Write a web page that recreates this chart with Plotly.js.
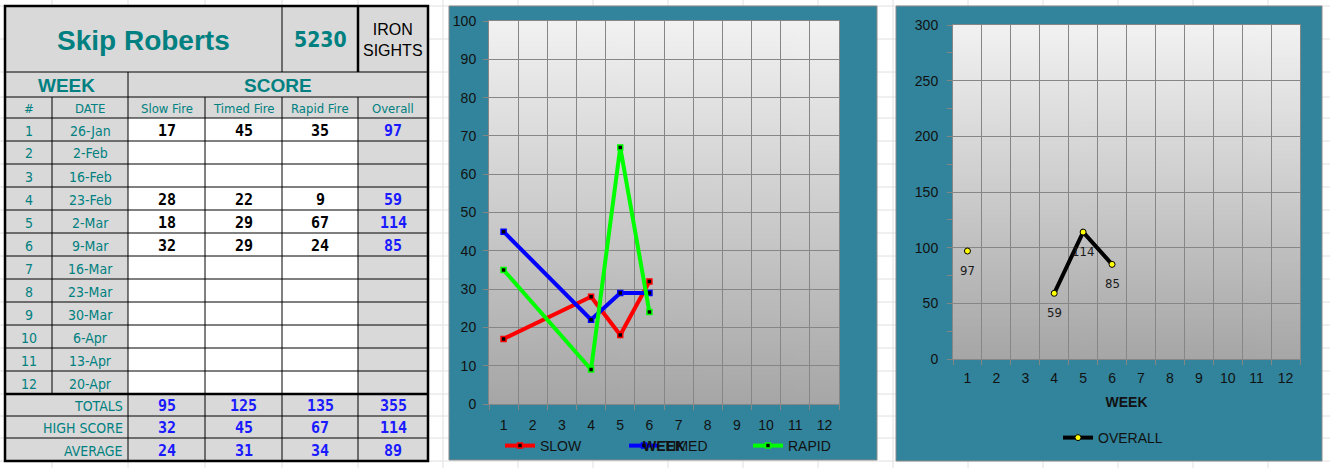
<!DOCTYPE html>
<html>
<head>
<meta charset="utf-8">
<script src="https://cdn.plot.ly/plotly-3.0.1.min.js"></script>
<style>
  html, body { margin: 0; padding: 0; background: #ffffff; }
  #chart { width: 1330px; height: 468px; }
</style>
</head>
<body>
<div id="chart"></div>
<script>
// ---------------- DATA ----------------
const shooterName = 'Skip Roberts';
const shooterNumber = '5230';
const sightType = 'IRON<br>SIGHTS';
const weekNumbers = [1, 2, 3, 4, 5, 6, 7, 8, 9, 10, 11, 12];
const weekDates = ['26-Jan', '2-Feb', '16-Feb', '23-Feb', '2-Mar', '9-Mar', '16-Mar', '23-Mar', '30-Mar', '6-Apr', '13-Apr', '20-Apr'];
const slowFire  = [17, null, null, 28, 18, 32, null, null, null, null, null, null];
const timedFire = [45, null, null, 22, 29, 29, null, null, null, null, null, null];
const rapidFire = [35, null, null, 9, 67, 24, null, null, null, null, null, null];
const overallScore = [97, null, null, 59, 114, 85, null, null, null, null, null, null];
const summaryLabels = ['TOTALS', 'HIGH SCORE', 'AVERAGE'];
const totalsRow = [95, 125, 135, 355];
const highScoreRow = [32, 45, 67, 114];
const averageRow = [24, 31, 34, 89];
const headerLabels = ['#', 'DATE', 'Slow Fire', 'Timed Fire', 'Rapid Fire', 'Overall'];
const seriesNames = ['SLOW', 'TIMED', 'RAPID'];
const overallName = 'OVERALL';

// ---------------- HELPERS ----------------
const W = 1330, H = 468;
const px = x => x / W;
const py = y => 1 - y / H;

const TEAL_TEXT = '#008080';
const CELL_GRAY = '#D9D9D9';
const BLUE_NUM = '#1A1AFF';
const FRAME = '#31849B';
const GRID = '#868686';
const SHEET_GRID = '#E0E0E0';
const SANS = 'Liberation Sans, Arial, sans-serif';
const NARROW = 'DejaVu Sans Condensed, Liberation Sans Narrow, sans-serif';
const MONO = 'DejaVu Sans Mono, monospace';

const shapes = [];
const annotations = [];

function line(x0, y0, x1, y1, color, width) {
  shapes.push({type: 'line', xref: 'paper', yref: 'paper', x0: px(x0), y0: py(y0), x1: px(x1), y1: py(y1),
    line: {color: color, width: width}, layer: 'below'});
}
function rect(x0, y0, x1, y1, fill, lineColor, lineWidth) {
  shapes.push({type: 'rect', xref: 'paper', yref: 'paper', x0: px(x0), y0: py(y0), x1: px(x1), y1: py(y1),
    fillcolor: fill, line: {color: lineColor || 'rgba(0,0,0,0)', width: lineWidth || 0}, layer: 'below'});
}
function text(x, y, str, font, xanchor) {
  annotations.push({xref: 'paper', yref: 'paper', x: px(x), y: py(y), text: str, showarrow: false,
    xanchor: xanchor || 'center', yanchor: 'middle', font: font, borderpad: 0});
}

// ---------------- SPREADSHEET GRID ----------------
const sheetCols = [52, 128, 205, 282, 358, 443, 518, 593, 668, 743, 818, 893, 968, 1043, 1118, 1193, 1268];
const sheetRows = [6, 39, 72, 97, 118, 141, 164, 187, 210, 233, 256, 279, 302, 325, 348, 371, 394, 416, 438, 461];
sheetCols.forEach(x => line(x, 0, x, H, SHEET_GRID, 1));
sheetRows.forEach(y => line(0, y, W, y, SHEET_GRID, 1));

// ---------------- CHART FRAMES ----------------
rect(449, 6, 877, 460, FRAME, '#8A8A8A', 1);
rect(896, 6, 1322, 461, FRAME, '#8A8A8A', 1);

// ---------------- TABLE ----------------
const colX = [5, 52, 128, 205, 282, 358, 428];
const titleTop = 6, titleBot = 72, weekBot = 97, headBot = 118, rowH = 23;
const dataTop = headBot;
const dataBot = dataTop + rowH * weekNumbers.length; // 394
const sumRows = [dataBot, 416, 438, 461];
const tableBot = sumRows[3];

rect(colX[0], titleTop, colX[6], tableBot, CELL_GRAY);
rect(colX[2], dataTop, colX[5], dataBot, '#FFFFFF');

[titleBot, weekBot, headBot].forEach(y => line(colX[0], y, colX[6], y, '#000', 1));
for (let i = 1; i < weekNumbers.length; i++) line(colX[0], dataTop + rowH * i, colX[6], dataTop + rowH * i, '#000', 1);
line(colX[0], dataBot, colX[6], dataBot, '#000', 2.5);
line(colX[0], sumRows[1], colX[6], sumRows[1], '#000', 1);
line(colX[0], sumRows[2], colX[6], sumRows[2], '#000', 1);
line(282, titleTop, 282, titleBot, '#000', 1);
line(358, titleTop, 358, titleBot, '#000', 2.5);
line(colX[2], titleBot, colX[2], tableBot, '#000', 1);
line(colX[1], weekBot, colX[1], dataBot, '#000', 1);
[colX[3], colX[4], colX[5]].forEach(x => line(x, weekBot, x, tableBot, '#000', 1));
rect(colX[0], titleTop, colX[6], tableBot, 'rgba(0,0,0,0)', '#000', 2.5);

const cx = i => (colX[i] + colX[i + 1]) / 2;
text((colX[0] + 282) / 2, 40, '<b>' + shooterName + '</b>', {family: SANS, size: 28, color: TEAL_TEXT});
text((282 + 358) / 2, 40, '<b>' + shooterNumber + '</b>', {family: NARROW, size: 21, color: TEAL_TEXT});
text(cx(5), 40, sightType, {family: SANS, size: 16, color: '#000'});
text((colX[0] + colX[2]) / 2, 85, '<b>WEEK</b>', {family: SANS, size: 19, color: TEAL_TEXT});
text((colX[2] + colX[6]) / 2, 85, '<b>SCORE</b>', {family: SANS, size: 19, color: TEAL_TEXT});
headerLabels.forEach((h, i) => text(cx(i), 108, h, {family: NARROW, size: 13, color: TEAL_TEXT}));

const dataCols = [slowFire, timedFire, rapidFire];
weekNumbers.forEach((wk, r) => {
  const yc = dataTop + rowH * r + rowH / 2 + 1;
  text(cx(0), yc, String(wk), {family: NARROW, size: 14, color: TEAL_TEXT});
  text(cx(1), yc, weekDates[r], {family: NARROW, size: 14, color: TEAL_TEXT});
  dataCols.forEach((arr, c) => {
    if (arr[r] != null) text(cx(c + 2), yc, '<b>' + arr[r] + '</b>', {family: MONO, size: 15, color: '#000'});
  });
  if (overallScore[r] != null) text(cx(5), yc, '<b>' + overallScore[r] + '</b>', {family: MONO, size: 15, color: BLUE_NUM});
});
[totalsRow, highScoreRow, averageRow].forEach((vals, r) => {
  const yc = (sumRows[r] + sumRows[r + 1]) / 2 + 1;
  text(124, yc, summaryLabels[r], {family: NARROW, size: 14, color: TEAL_TEXT}, 'right');
  vals.forEach((v, c) => text(cx(c + 2), yc, '<b>' + v + '</b>', {family: MONO, size: 15, color: BLUE_NUM}));
});

// ---------------- GRADIENT BACKGROUND ----------------
const cv = document.createElement('canvas');
cv.width = 4; cv.height = 256;
const ctx = cv.getContext('2d');
const grd = ctx.createLinearGradient(0, 0, 0, 256);
grd.addColorStop(0, '#F2F2F2');
grd.addColorStop(1, '#A6A6A6');
ctx.fillStyle = grd;
ctx.fillRect(0, 0, 4, 256);
const gradURL = cv.toDataURL('image/png');

const images = ['x', 'x2'].map((xa, i) => ({
  source: gradURL, xref: xa + ' domain', yref: (i === 0 ? 'y' : 'y2') + ' domain',
  x: 0, y: 1, sizex: 1, sizey: 1, xanchor: 'left', yanchor: 'top', sizing: 'stretch', layer: 'below'
}));

// ---------------- TRACES ----------------
const seriesColors = ['#FF0000', '#0000FF', '#00FF00'];
const traces = [slowFire, timedFire, rapidFire].map((arr, i) => ({
  type: 'scatter', mode: 'lines+markers', x: weekNumbers, y: arr, name: seriesNames[i],
  connectgaps: true, xaxis: 'x', yaxis: 'y', legend: 'legend',
  line: {color: seriesColors[i], width: 4},
  marker: {symbol: 'square', size: 5, color: '#000', line: {color: seriesColors[i], width: 1.5}},
  hoverinfo: 'x+y+name'
}));
traces.push({
  type: 'scatter', mode: 'lines+markers', x: weekNumbers, y: overallScore, name: overallName,
  connectgaps: false, xaxis: 'x2', yaxis: 'y2', legend: 'legend2',
  line: {color: '#000', width: 4},
  marker: {symbol: 'circle', size: 6, color: '#FFFF00', line: {color: '#000', width: 1}},
  hoverinfo: 'x+y+name'
});

// data labels for OVERALL, positioned through the x2/y2 scales
weekNumbers.forEach((wk, i) => {
  if (overallScore[i] == null) return;
  annotations.push({xref: 'x2', yref: 'y2', x: wk, y: overallScore[i], text: String(overallScore[i]),
    showarrow: false, yshift: -19, xanchor: 'center', yanchor: 'middle',
    font: {family: NARROW, size: 13, color: '#1a1a1a'}});
});

// ---------------- AXES ----------------
const tickFont = {family: SANS, size: 14, color: '#111'};
function xAxis(domain, anchor, labelStandoff, titleStandoff) {
  return {
    domain: domain, anchor: anchor, range: [0.5, 12.5], type: 'linear',
    tickmode: 'array', tickvals: weekNumbers, ticktext: weekNumbers.map(String),
    ticks: '', showgrid: false, zeroline: false, tickfont: tickFont, ticklabelstandoff: labelStandoff,
    showline: true, linecolor: GRID, linewidth: 1, mirror: true,
    minor: {tickmode: 'linear', tick0: 0.5, dtick: 1, ticks: 'outside', ticklen: 5, tickcolor: GRID,
      showgrid: true, gridcolor: GRID, gridwidth: 1},
    title: {text: '<b>WEEK</b>', font: {family: SANS, size: 14, color: '#111'}, standoff: titleStandoff},
    fixedrange: true
  };
}
function yAxis(domain, anchor, maxV, step, minorStep, labelStandoff) {
  const ax = {
    domain: domain, anchor: anchor, range: [0, maxV], tickmode: 'linear', tick0: 0, dtick: step,
    ticks: 'outside', ticklen: 5, tickcolor: GRID, showgrid: true, gridcolor: GRID, gridwidth: 1,
    zeroline: false, tickfont: tickFont, showline: true, linecolor: GRID, linewidth: 1, mirror: true,
    ticklabelstandoff: labelStandoff, fixedrange: true
  };
  if (minorStep) ax.minor = {tickmode: 'linear', tick0: 0, dtick: minorStep, ticks: 'outside', ticklen: 5, tickcolor: GRID, showgrid: false};
  return ax;
}

const layout = {
  width: W, height: H, margin: {l: 0, r: 0, t: 0, b: 0, pad: 0},
  paper_bgcolor: '#FFFFFF', plot_bgcolor: 'rgba(0,0,0,0)',
  showlegend: true,
  xaxis: xAxis([px(489), px(839)], 'y', 8, 9),
  yaxis: yAxis([py(404), py(21)], 'x', 100, 10, null, 4),
  xaxis2: xAxis([px(953), px(1300)], 'y2', 6, 12),
  yaxis2: yAxis([py(359), py(25)], 'x2', 300, 50, 25, 6),
  legend: {orientation: 'h', x: px(500), y: py(446), xanchor: 'left', yanchor: 'middle',
    bgcolor: 'rgba(0,0,0,0)', font: {family: SANS, size: 14, color: '#111'},
    entrywidth: 79, entrywidthmode: 'pixels', itemwidth: 30},
  legend2: {orientation: 'h', x: px(1058), y: py(438), xanchor: 'left', yanchor: 'middle',
    bgcolor: 'rgba(0,0,0,0)', font: {family: SANS, size: 14, color: '#111'}, itemwidth: 30},
  shapes: shapes, annotations: annotations, images: images,
  font: {family: SANS}
};

Plotly.newPlot('chart', traces, layout, {displayModeBar: false, responsive: false});
</script>
</body>
</html>
